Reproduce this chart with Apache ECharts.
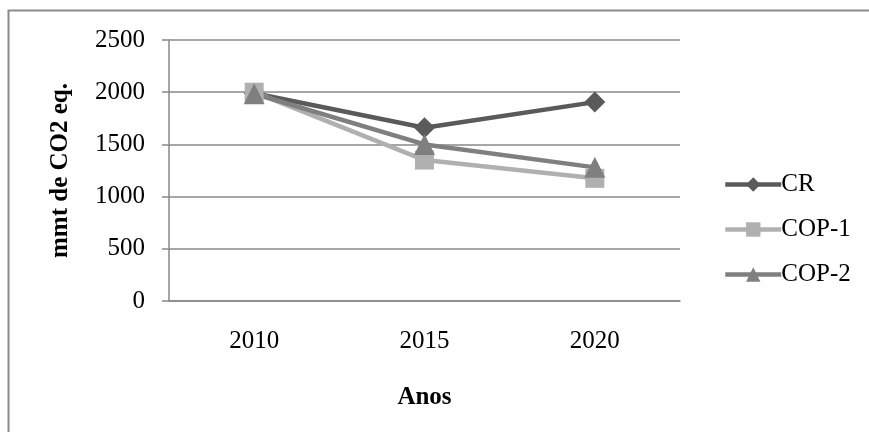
<!DOCTYPE html>
<html>
<head>
<meta charset="utf-8">
<script src="https://cdn.jsdelivr.net/npm/echarts@6/dist/echarts.min.js"></script>
<style>
  html, body { margin: 0; padding: 0; background: #ffffff; }
  #chart { width: 869px; height: 432px; }
</style>
</head>
<body>
<div id="chart"></div>
<script>
// Emissions by scenario (mmt CO2 eq.)
const anos = ['2010', '2015', '2020'];
const serieCR = [1990, 1660, 1905];
const serieCOP1 = [2000, 1350, 1175];
const serieCOP2 = [1985, 1500, 1280];
const yTicks = [0, 500, 1000, 1500, 2000, 2500];

const FONT = '"Liberation Serif", "Times New Roman", serif';
const GRID_COLOR = '#888888';

const chart = echarts.init(document.getElementById('chart'), null, { renderer: 'canvas' });

function lineSeries(name, data, color, symbol, size) {
  return {
    name: name,
    type: 'line',
    data: data,
    symbol: symbol,
    symbolSize: size,
    lineStyle: { color: color, width: 4.5 },
    itemStyle: { color: color },
    emphasis: { disabled: true },
    animation: false
  };
}

chart.setOption({
  backgroundColor: '#ffffff',
  animation: false,
  textStyle: { fontFamily: FONT },
  graphic: [
    {
      type: 'polyline',
      shape: { points: [[8.5, 440], [8.5, 10.5], [880, 10.5]] },
      style: { stroke: '#8a8a8a', lineWidth: 2, fill: null },
      silent: true
    }
  ],
  grid: { left: 169, right: 189, top: 40, bottom: 131, containLabel: false },
  legend: {
    orient: 'vertical',
    left: 718,
    top: 167,
    itemWidth: 56,
    itemHeight: 18,
    itemGap: 20,
    lineStyle: { width: 4.5 },
    textStyle: { fontFamily: FONT, fontSize: 25, color: '#000000', padding: [0, 0, 0, -5] },
    data: ['CR', 'COP-1', 'COP-2']
  },
  xAxis: {
    type: 'category',
    data: anos,
    boundaryGap: true,
    name: 'Anos',
    nameLocation: 'middle',
    nameGap: 84,
    nameTextStyle: { fontFamily: FONT, fontSize: 25, fontWeight: 'bold', color: '#000000' },
    axisLine: { show: true, lineStyle: { color: GRID_COLOR, width: 1.5 } },
    axisTick: { show: false },
    axisLabel: { fontFamily: FONT, fontSize: 25, color: '#000000', margin: 28 },
    splitLine: { show: false }
  },
  yAxis: {
    type: 'value',
    min: yTicks[0],
    max: yTicks[yTicks.length - 1],
    interval: yTicks[1] - yTicks[0],
    name: 'mmt de CO2 eq.',
    nameLocation: 'middle',
    nameRotate: 90,
    nameGap: 96,
    nameTextStyle: { fontFamily: FONT, fontSize: 25, fontWeight: 'bold', color: '#000000' },
    axisLine: { show: true, lineStyle: { color: GRID_COLOR, width: 1.5 } },
    axisTick: { show: true, inside: false, length: 7, lineStyle: { color: GRID_COLOR, width: 1.5 } },
    axisLabel: {
      fontFamily: FONT, fontSize: 25, color: '#000000', margin: 24,
      formatter: function (v) { return String(v); }
    },
    splitLine: { show: true, lineStyle: { color: GRID_COLOR, width: 1.5 } }
  },
  series: [
    lineSeries('CR', serieCR, '#5a5a5a', 'diamond', 21),
    lineSeries('COP-1', serieCOP1, '#b0b0b0', 'rect', 19),
    lineSeries('COP-2', serieCOP2, '#7f7f7f', 'triangle', 21)
  ]
});
</script>
</body>
</html>
